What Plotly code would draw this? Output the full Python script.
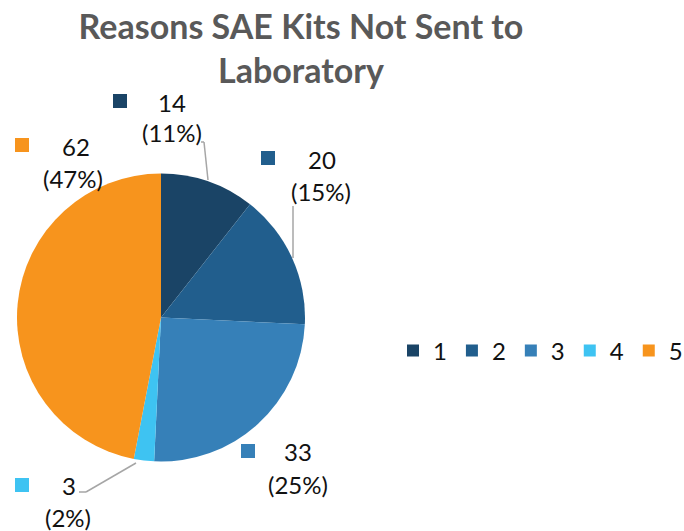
import plotly.graph_objects as go

categories = ["1", "2", "3", "4", "5"]
values = [14, 20, 33, 3, 62]
colors = ["#1a4466", "#215e8d", "#3680b8", "#3ec3f2", "#f7941d"]
title_text = "Reasons SAE Kits Not Sent to<br>Laboratory"

W, H = 684, 531
def px(x): return x / W
def py(y): return 1 - y / H

total = sum(values)
pcts = [round(v * 100 / total) for v in values]

fig = go.Figure(go.Pie(
    labels=categories, values=values, sort=False, direction="clockwise", rotation=0,
    marker=dict(colors=colors, line=dict(width=0)),
    textinfo="none", hoverinfo="label+value+percent",
    domain=dict(x=[px(17), px(305)], y=[py(462), py(173)]),
))

# label layout (positions of value / percent labels and their swatches)
label_pos = [
    (172, 102, 172, 133, 120, 101),
    (322, 159, 321, 191, 268, 158),
    (298, 451, 298, 484, 248, 451),
    (69, 485, 68, 517, 22, 485),
    (76, 146, 73, 179, 22, 145),
]
annotations = []
shapes = []
font = dict(family="Lato, Open Sans, sans-serif", size=24, color="#111111")
for i, (vx, vy, qx, qy, sx, sy) in enumerate(label_pos):
    annotations.append(dict(x=px(vx), y=py(vy), xref="paper", yref="paper", text=str(values[i]),
                            showarrow=False, xanchor="center", yanchor="middle", font=font))
    annotations.append(dict(x=px(qx), y=py(qy), xref="paper", yref="paper", text=f"({pcts[i]}%)",
                            showarrow=False, xanchor="center", yanchor="middle", font=font))
    shapes.append(dict(type="rect", xref="paper", yref="paper", x0=px(sx - 7), x1=px(sx + 7),
                       y0=py(sy + 7), y1=py(sy - 7), fillcolor=colors[i], line=dict(width=0)))

# leader lines
leaders = [
    [(201, 142), (204, 142), (208, 180)],
    [(293, 206), (293, 258)],
    [(79, 492), (86, 492), (136, 463)],
]
for pts in leaders:
    for (x0, y0), (x1, y1) in zip(pts[:-1], pts[1:]):
        shapes.append(dict(type="line", xref="paper", yref="paper", x0=px(x0), y0=py(y0),
                           x1=px(x1), y1=py(y1), line=dict(color="#a6a6a6", width=1.5)))

fig.update_layout(
    width=W, height=H,
    margin=dict(l=0, r=0, t=0, b=0, autoexpand=False),
    paper_bgcolor="white", plot_bgcolor="white",
    title=dict(text=title_text, x=px(301), xanchor="center", y=py(39), yanchor="middle",
               font=dict(family="Lato, Open Sans, sans-serif", size=34, color="#595959", weight="bold")),
    legend=dict(orientation="h", x=px(393), xanchor="left", y=py(351), yanchor="middle",
                font=dict(family="Lato, Open Sans, sans-serif", size=24, color="#111111"),
                itemwidth=30, traceorder="normal"),
    annotations=annotations, shapes=shapes,
)

fig.write_html("out.html", config={"displayModeBar": False},
               post_script="document.body.style.margin='0';document.body.style.overflow='hidden';")
